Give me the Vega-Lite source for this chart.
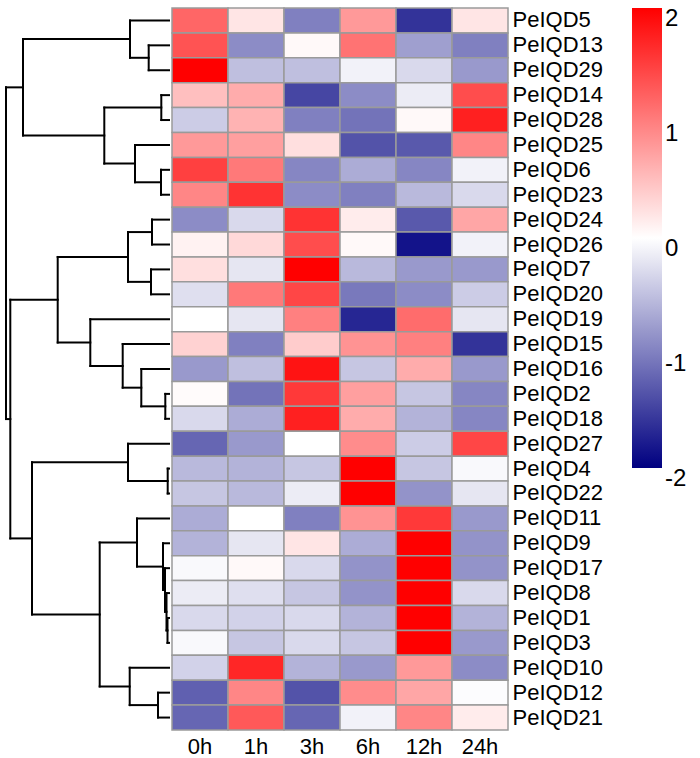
{
  "$schema": "https://vega.github.io/schema/vega-lite/v6.json",
  "padding": {"left": 4, "top": 7, "right": 0, "bottom": 0},
  "background": "white",
  "spacing": 0,
  "config": {"view": {"stroke": null}, "font": "Liberation Sans"},
  "datasets": {
    "tree": [
      {"h1":0,"h2":20.3,"y1":1.5,"y2":1.5},{"h1":0,"h2":20.3,"y1":2.5,"y2":2.5},{"h1":20.3,"h2":20.3,"y1":1.5,"y2":2.5},
      {"h1":0,"h2":39,"y1":0.5,"y2":0.5},{"h1":20.3,"h2":39,"y1":2,"y2":2},{"h1":39,"h2":39,"y1":0.5,"y2":2},
      {"h1":0,"h2":7.7,"y1":3.5,"y2":3.5},{"h1":0,"h2":7.7,"y1":4.5,"y2":4.5},{"h1":7.7,"h2":7.7,"y1":3.5,"y2":4.5},
      {"h1":0,"h2":8,"y1":6.5,"y2":6.5},{"h1":0,"h2":8,"y1":7.5,"y2":7.5},{"h1":8,"h2":8,"y1":6.5,"y2":7.5},
      {"h1":0,"h2":34,"y1":5.5,"y2":5.5},{"h1":8,"h2":34,"y1":7,"y2":7},{"h1":34,"h2":34,"y1":5.5,"y2":7},
      {"h1":7.7,"h2":64.7,"y1":4,"y2":4},{"h1":34,"h2":64.7,"y1":6.25,"y2":6.25},{"h1":64.7,"h2":64.7,"y1":4,"y2":6.25},
      {"h1":39,"h2":146,"y1":1.25,"y2":1.25},{"h1":64.7,"h2":146,"y1":5.125,"y2":5.125},{"h1":146,"h2":146,"y1":1.25,"y2":5.125},
      {"h1":0,"h2":17,"y1":8.5,"y2":8.5},{"h1":0,"h2":17,"y1":9.5,"y2":9.5},{"h1":17,"h2":17,"y1":8.5,"y2":9.5},
      {"h1":0,"h2":18,"y1":10.5,"y2":10.5},{"h1":0,"h2":18,"y1":11.5,"y2":11.5},{"h1":18,"h2":18,"y1":10.5,"y2":11.5},
      {"h1":17,"h2":41,"y1":9,"y2":9},{"h1":18,"h2":41,"y1":11,"y2":11},{"h1":41,"h2":41,"y1":9,"y2":11},
      {"h1":0,"h2":3.7,"y1":15.5,"y2":15.5},{"h1":0,"h2":3.7,"y1":16.5,"y2":16.5},{"h1":3.7,"h2":3.7,"y1":15.5,"y2":16.5},
      {"h1":0,"h2":27.7,"y1":14.5,"y2":14.5},{"h1":3.7,"h2":27.7,"y1":16,"y2":16},{"h1":27.7,"h2":27.7,"y1":14.5,"y2":16},
      {"h1":0,"h2":46.3,"y1":13.5,"y2":13.5},{"h1":27.7,"h2":46.3,"y1":15.25,"y2":15.25},{"h1":46.3,"h2":46.3,"y1":13.5,"y2":15.25},
      {"h1":0,"h2":78.7,"y1":12.5,"y2":12.5},{"h1":46.3,"h2":78.7,"y1":14.375,"y2":14.375},{"h1":78.7,"h2":78.7,"y1":12.5,"y2":14.375},
      {"h1":41,"h2":111.3,"y1":10,"y2":10},{"h1":78.7,"h2":111.3,"y1":13.4375,"y2":13.4375},{"h1":111.3,"h2":111.3,"y1":10,"y2":13.4375},
      {"h1":0,"h2":1.3,"y1":18.5,"y2":18.5},{"h1":0,"h2":1.3,"y1":19.5,"y2":19.5},{"h1":1.3,"h2":1.3,"y1":18.5,"y2":19.5},
      {"h1":0,"h2":41,"y1":17.5,"y2":17.5},{"h1":1.3,"h2":41,"y1":19,"y2":19},{"h1":41,"h2":41,"y1":17.5,"y2":19},
      {"h1":0,"h2":1.5,"y1":24.5,"y2":24.5},{"h1":0,"h2":1.5,"y1":25.5,"y2":25.5},{"h1":1.5,"h2":1.5,"y1":24.5,"y2":25.5},
      {"h1":0,"h2":2.5,"y1":23.5,"y2":23.5},{"h1":1.5,"h2":2.5,"y1":25,"y2":25},{"h1":2.5,"h2":2.5,"y1":23.5,"y2":25},
      {"h1":0,"h2":4,"y1":22.5,"y2":22.5},{"h1":2.5,"h2":4,"y1":24.25,"y2":24.25},{"h1":4,"h2":4,"y1":22.5,"y2":24.25},
      {"h1":0,"h2":6,"y1":21.5,"y2":21.5},{"h1":4,"h2":6,"y1":23.375,"y2":23.375},{"h1":6,"h2":6,"y1":21.5,"y2":23.375},
      {"h1":0,"h2":32,"y1":20.5,"y2":20.5},{"h1":6,"h2":32,"y1":22.4375,"y2":22.4375},{"h1":32,"h2":32,"y1":20.5,"y2":22.4375},
      {"h1":0,"h2":11,"y1":27.5,"y2":27.5},{"h1":0,"h2":11,"y1":28.5,"y2":28.5},{"h1":11,"h2":11,"y1":27.5,"y2":28.5},
      {"h1":0,"h2":39.3,"y1":26.5,"y2":26.5},{"h1":11,"h2":39.3,"y1":28,"y2":28},{"h1":39.3,"h2":39.3,"y1":26.5,"y2":28},
      {"h1":32,"h2":69.3,"y1":21.46875,"y2":21.46875},{"h1":39.3,"h2":69.3,"y1":27.25,"y2":27.25},{"h1":69.3,"h2":69.3,"y1":21.46875,"y2":27.25},
      {"h1":41,"h2":137,"y1":18.25,"y2":18.25},{"h1":69.3,"h2":137,"y1":24.359375,"y2":24.359375},{"h1":137,"h2":137,"y1":18.25,"y2":24.359375},
      {"h1":111.3,"h2":158.7,"y1":11.71875,"y2":11.71875},{"h1":137,"h2":158.7,"y1":21.3046875,"y2":21.3046875},{"h1":158.7,"h2":158.7,"y1":11.71875,"y2":21.3046875},
      {"h1":146,"h2":163,"y1":3.1875,"y2":3.1875},{"h1":158.7,"h2":163,"y1":16.51171875,"y2":16.51171875},{"h1":163,"h2":163,"y1":3.1875,"y2":16.51171875}
    ],
    "heat": [
      {"gene":"PeIQD5","time":"0h","z":1.2},{"gene":"PeIQD5","time":"1h","z":0.2},{"gene":"PeIQD5","time":"3h","z":-1.0},{"gene":"PeIQD5","time":"6h","z":0.8},{"gene":"PeIQD5","time":"12h","z":-1.6},{"gene":"PeIQD5","time":"24h","z":0.2},
      {"gene":"PeIQD13","time":"0h","z":1.35},{"gene":"PeIQD13","time":"1h","z":-0.9},{"gene":"PeIQD13","time":"3h","z":0.05},{"gene":"PeIQD13","time":"6h","z":1.1},{"gene":"PeIQD13","time":"12h","z":-0.75},{"gene":"PeIQD13","time":"24h","z":-1.0},
      {"gene":"PeIQD29","time":"0h","z":2.0},{"gene":"PeIQD29","time":"1h","z":-0.5},{"gene":"PeIQD29","time":"3h","z":-0.5},{"gene":"PeIQD29","time":"6h","z":-0.1},{"gene":"PeIQD29","time":"12h","z":-0.3},{"gene":"PeIQD29","time":"24h","z":-0.8},
      {"gene":"PeIQD14","time":"0h","z":0.5},{"gene":"PeIQD14","time":"1h","z":0.65},{"gene":"PeIQD14","time":"3h","z":-1.45},{"gene":"PeIQD14","time":"6h","z":-0.9},{"gene":"PeIQD14","time":"12h","z":-0.15},{"gene":"PeIQD14","time":"24h","z":1.4},
      {"gene":"PeIQD28","time":"0h","z":-0.4},{"gene":"PeIQD28","time":"1h","z":0.6},{"gene":"PeIQD28","time":"3h","z":-1.0},{"gene":"PeIQD28","time":"6h","z":-1.1},{"gene":"PeIQD28","time":"12h","z":0.05},{"gene":"PeIQD28","time":"24h","z":1.75},
      {"gene":"PeIQD25","time":"0h","z":0.8},{"gene":"PeIQD25","time":"1h","z":0.75},{"gene":"PeIQD25","time":"3h","z":0.25},{"gene":"PeIQD25","time":"6h","z":-1.35},{"gene":"PeIQD25","time":"12h","z":-1.3},{"gene":"PeIQD25","time":"24h","z":0.95},
      {"gene":"PeIQD6","time":"0h","z":1.5},{"gene":"PeIQD6","time":"1h","z":1.05},{"gene":"PeIQD6","time":"3h","z":-0.95},{"gene":"PeIQD6","time":"6h","z":-0.65},{"gene":"PeIQD6","time":"12h","z":-0.95},{"gene":"PeIQD6","time":"24h","z":-0.1},
      {"gene":"PeIQD23","time":"0h","z":0.95},{"gene":"PeIQD23","time":"1h","z":1.6},{"gene":"PeIQD23","time":"3h","z":-0.9},{"gene":"PeIQD23","time":"6h","z":-1.0},{"gene":"PeIQD23","time":"12h","z":-0.55},{"gene":"PeIQD23","time":"24h","z":-0.3},
      {"gene":"PeIQD24","time":"0h","z":-0.9},{"gene":"PeIQD24","time":"1h","z":-0.3},{"gene":"PeIQD24","time":"3h","z":1.6},{"gene":"PeIQD24","time":"6h","z":0.15},{"gene":"PeIQD24","time":"12h","z":-1.3},{"gene":"PeIQD24","time":"24h","z":0.7},
      {"gene":"PeIQD26","time":"0h","z":0.1},{"gene":"PeIQD26","time":"1h","z":0.3},{"gene":"PeIQD26","time":"3h","z":1.4},{"gene":"PeIQD26","time":"6h","z":0.05},{"gene":"PeIQD26","time":"12h","z":-1.85},{"gene":"PeIQD26","time":"24h","z":-0.1},
      {"gene":"PeIQD7","time":"0h","z":0.25},{"gene":"PeIQD7","time":"1h","z":-0.2},{"gene":"PeIQD7","time":"3h","z":2.0},{"gene":"PeIQD7","time":"6h","z":-0.55},{"gene":"PeIQD7","time":"12h","z":-0.8},{"gene":"PeIQD7","time":"24h","z":-0.8},
      {"gene":"PeIQD20","time":"0h","z":-0.25},{"gene":"PeIQD20","time":"1h","z":1.05},{"gene":"PeIQD20","time":"3h","z":1.45},{"gene":"PeIQD20","time":"6h","z":-1.05},{"gene":"PeIQD20","time":"12h","z":-0.9},{"gene":"PeIQD20","time":"24h","z":-0.4},
      {"gene":"PeIQD19","time":"0h","z":0.0},{"gene":"PeIQD19","time":"1h","z":-0.2},{"gene":"PeIQD19","time":"3h","z":1.0},{"gene":"PeIQD19","time":"6h","z":-1.7},{"gene":"PeIQD19","time":"12h","z":1.15},{"gene":"PeIQD19","time":"24h","z":-0.2},
      {"gene":"PeIQD15","time":"0h","z":0.35},{"gene":"PeIQD15","time":"1h","z":-1.0},{"gene":"PeIQD15","time":"3h","z":0.4},{"gene":"PeIQD15","time":"6h","z":0.85},{"gene":"PeIQD15","time":"12h","z":1.0},{"gene":"PeIQD15","time":"24h","z":-1.6},
      {"gene":"PeIQD16","time":"0h","z":-0.8},{"gene":"PeIQD16","time":"1h","z":-0.5},{"gene":"PeIQD16","time":"3h","z":1.85},{"gene":"PeIQD16","time":"6h","z":-0.45},{"gene":"PeIQD16","time":"12h","z":0.65},{"gene":"PeIQD16","time":"24h","z":-0.8},
      {"gene":"PeIQD2","time":"0h","z":0.03},{"gene":"PeIQD2","time":"1h","z":-1.1},{"gene":"PeIQD2","time":"3h","z":1.55},{"gene":"PeIQD2","time":"6h","z":0.75},{"gene":"PeIQD2","time":"12h","z":-0.45},{"gene":"PeIQD2","time":"24h","z":-0.95},
      {"gene":"PeIQD18","time":"0h","z":-0.3},{"gene":"PeIQD18","time":"1h","z":-0.65},{"gene":"PeIQD18","time":"3h","z":1.75},{"gene":"PeIQD18","time":"6h","z":0.65},{"gene":"PeIQD18","time":"12h","z":-0.6},{"gene":"PeIQD18","time":"24h","z":-0.95},
      {"gene":"PeIQD27","time":"0h","z":-1.2},{"gene":"PeIQD27","time":"1h","z":-0.8},{"gene":"PeIQD27","time":"3h","z":0.0},{"gene":"PeIQD27","time":"6h","z":0.9},{"gene":"PeIQD27","time":"12h","z":-0.4},{"gene":"PeIQD27","time":"24h","z":1.45},
      {"gene":"PeIQD4","time":"0h","z":-0.55},{"gene":"PeIQD4","time":"1h","z":-0.6},{"gene":"PeIQD4","time":"3h","z":-0.45},{"gene":"PeIQD4","time":"6h","z":2.0},{"gene":"PeIQD4","time":"12h","z":-0.45},{"gene":"PeIQD4","time":"24h","z":-0.05},
      {"gene":"PeIQD22","time":"0h","z":-0.45},{"gene":"PeIQD22","time":"1h","z":-0.55},{"gene":"PeIQD22","time":"3h","z":-0.15},{"gene":"PeIQD22","time":"6h","z":2.0},{"gene":"PeIQD22","time":"12h","z":-0.85},{"gene":"PeIQD22","time":"24h","z":-0.2},
      {"gene":"PeIQD11","time":"0h","z":-0.65},{"gene":"PeIQD11","time":"1h","z":0.0},{"gene":"PeIQD11","time":"3h","z":-1.0},{"gene":"PeIQD11","time":"6h","z":0.85},{"gene":"PeIQD11","time":"12h","z":1.55},{"gene":"PeIQD11","time":"24h","z":-0.8},
      {"gene":"PeIQD9","time":"0h","z":-0.6},{"gene":"PeIQD9","time":"1h","z":-0.2},{"gene":"PeIQD9","time":"3h","z":0.2},{"gene":"PeIQD9","time":"6h","z":-0.65},{"gene":"PeIQD9","time":"12h","z":2.0},{"gene":"PeIQD9","time":"24h","z":-0.85},
      {"gene":"PeIQD17","time":"0h","z":-0.05},{"gene":"PeIQD17","time":"1h","z":0.05},{"gene":"PeIQD17","time":"3h","z":-0.3},{"gene":"PeIQD17","time":"6h","z":-0.85},{"gene":"PeIQD17","time":"12h","z":2.0},{"gene":"PeIQD17","time":"24h","z":-0.85},
      {"gene":"PeIQD8","time":"0h","z":-0.15},{"gene":"PeIQD8","time":"1h","z":-0.25},{"gene":"PeIQD8","time":"3h","z":-0.45},{"gene":"PeIQD8","time":"6h","z":-0.85},{"gene":"PeIQD8","time":"12h","z":2.0},{"gene":"PeIQD8","time":"24h","z":-0.3},
      {"gene":"PeIQD1","time":"0h","z":-0.3},{"gene":"PeIQD1","time":"1h","z":-0.35},{"gene":"PeIQD1","time":"3h","z":-0.3},{"gene":"PeIQD1","time":"6h","z":-0.6},{"gene":"PeIQD1","time":"12h","z":2.0},{"gene":"PeIQD1","time":"24h","z":-0.6},
      {"gene":"PeIQD3","time":"0h","z":-0.05},{"gene":"PeIQD3","time":"1h","z":-0.45},{"gene":"PeIQD3","time":"3h","z":-0.3},{"gene":"PeIQD3","time":"6h","z":-0.45},{"gene":"PeIQD3","time":"12h","z":2.0},{"gene":"PeIQD3","time":"24h","z":-0.8},
      {"gene":"PeIQD10","time":"0h","z":-0.35},{"gene":"PeIQD10","time":"1h","z":1.7},{"gene":"PeIQD10","time":"3h","z":-0.6},{"gene":"PeIQD10","time":"6h","z":-0.8},{"gene":"PeIQD10","time":"12h","z":0.8},{"gene":"PeIQD10","time":"24h","z":-0.9},
      {"gene":"PeIQD12","time":"0h","z":-1.25},{"gene":"PeIQD12","time":"1h","z":0.95},{"gene":"PeIQD12","time":"3h","z":-1.35},{"gene":"PeIQD12","time":"6h","z":0.9},{"gene":"PeIQD12","time":"12h","z":0.7},{"gene":"PeIQD12","time":"24h","z":-0.02},
      {"gene":"PeIQD21","time":"0h","z":-1.2},{"gene":"PeIQD21","time":"1h","z":1.3},{"gene":"PeIQD21","time":"3h","z":-1.2},{"gene":"PeIQD21","time":"6h","z":-0.1},{"gene":"PeIQD21","time":"12h","z":0.95},{"gene":"PeIQD21","time":"24h","z":0.15}
    ]
  },
  "hconcat": [
    {
      "width": 163,
      "height": 722,
      "data": {"name": "tree"},
      "mark": {"type": "rule", "color": "black", "strokeWidth": 2, "strokeCap": "square"},
      "encoding": {
        "x": {"field": "h1", "type": "quantitative", "scale": {"domain": [0, 163], "reverse": true, "nice": false, "zero": false}, "axis": null},
        "x2": {"field": "h2"},
        "y": {"field": "y1", "type": "quantitative", "scale": {"domain": [0, 29], "reverse": true, "nice": false, "zero": false}, "axis": null},
        "y2": {"field": "y2"}
      }
    },
    {
      "width": 336,
      "height": 722,
      "data": {"name": "heat"},
      "mark": {"type": "rect", "stroke": "#9a9a9a", "strokeWidth": 1.5},
      "encoding": {
        "x": {
          "field": "time", "type": "nominal",
          "sort": ["0h", "1h", "3h", "6h", "12h", "24h"],
          "scale": {"paddingInner": 0, "paddingOuter": 0},
          "axis": {"title": null, "labelAngle": 0, "labelFontSize": 22, "labelPadding": 6, "ticks": false, "domain": false, "labelColor": "black"}
        },
        "y": {
          "field": "gene", "type": "nominal",
          "sort": ["PeIQD5","PeIQD13","PeIQD29","PeIQD14","PeIQD28","PeIQD25","PeIQD6","PeIQD23","PeIQD24","PeIQD26","PeIQD7","PeIQD20","PeIQD19","PeIQD15","PeIQD16","PeIQD2","PeIQD18","PeIQD27","PeIQD4","PeIQD22","PeIQD11","PeIQD9","PeIQD17","PeIQD8","PeIQD1","PeIQD3","PeIQD10","PeIQD12","PeIQD21"],
          "scale": {"paddingInner": 0, "paddingOuter": 0},
          "axis": {"orient": "right", "title": null, "labelFontSize": 22, "labelPadding": 4, "ticks": false, "domain": false, "labelColor": "black"}
        },
        "color": {
          "field": "z", "type": "quantitative",
          "scale": {"domain": [-2, 0, 2], "range": ["#000080", "#ffffff", "#ff0000"], "interpolate": "rgb"},
          "legend": {
            "orient": "none", "legendX": 626, "legendY": 0,
            "direction": "vertical", "title": null,
            "gradientLength": 460, "gradientThickness": 30, "gradientStrokeWidth": 0,
            "values": [2, 1, 0, -1, -2], "labelExpr": "toString(datum.value)",
            "labelFontSize": 24, "labelOffset": 3, "labelColor": "black", "labelOverlap": false,
            "encode": {"labels": {"update": {"baseline": {"value": "middle"}, "dy": {"value": 11}}}}
          }
        }
      }
    }
  ]
}
